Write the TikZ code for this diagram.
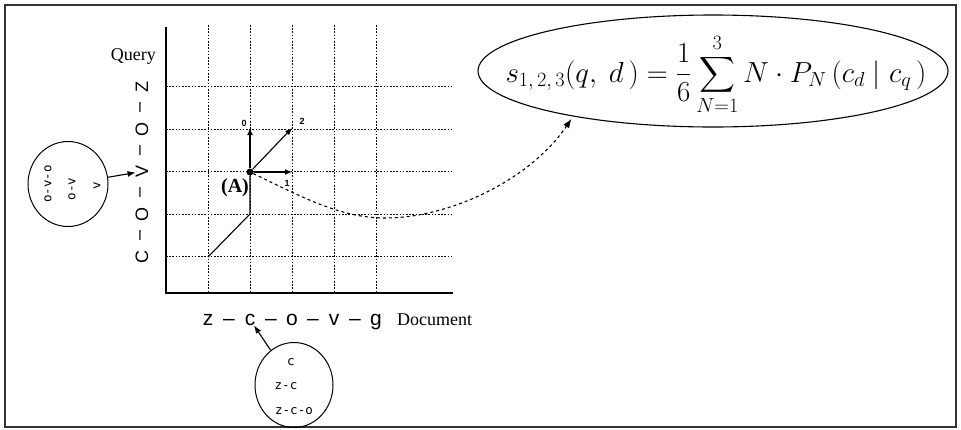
\RequirePackage{fix-cm}
\documentclass[tikz,border=0pt]{standalone}
\usepackage{amsmath}
\usepackage{fontspec}
\setmainfont{Liberation Serif}
\setsansfont{Liberation Sans}
\setmonofont{DejaVu Sans Mono}
\usetikzlibrary{arrows.meta, shapes.geometric}
\tikzset{
  frm/.style   ={line width=1.3pt, black!80},
  grd/.style   ={line width=0.9pt, dash pattern=on 1.6pt off 1.6pt},
  axis/.style  ={line width=1.3pt},
  qch/.style   ={font=\sffamily\fontsize{18}{18}\selectfont, rotate=90,
                 inner sep=0pt},
  dch/.style   ={font=\sffamily\fontsize{21}{21}\selectfont, anchor=base,
                 inner sep=0pt},
  axlbl/.style ={font=\fontsize{18}{18}\selectfont, inner sep=0pt},
  grp/.style   ={draw, ellipse, line width=1pt, inner sep=0pt},
  grptxt/.style={font=\ttfamily\fontsize{12.5}{12.5}\selectfont, inner sep=0pt},
  dot/.style   ={circle, fill, minimum size=7pt, inner sep=0pt},
  vec/.style   ={-{Latex[length=7pt, width=6pt]}, line width=1.1pt},
  pt/.style    ={-{Latex[length=8pt, width=6pt]}, line width=1.1pt},
  link/.style  ={-{Latex[length=9pt, width=7pt]}, line width=1.1pt,
                 dash pattern=on 3pt off 3pt},
  dirn/.style  ={font=\sffamily\bfseries\fontsize{9}{9}\selectfont, inner sep=1pt},
  eqell/.style ={draw, ellipse, line width=1.1pt, minimum width=470pt,
                 minimum height=112pt, inner sep=0pt},
  eqtxt/.style ={font=\fontsize{29}{34}\selectfont, inner sep=0pt, anchor=base},
}
\begin{document}
\begin{tikzpicture}[x=1pt, y=-1pt]
  \useasboundingbox (0,0) rectangle (961,429);
  \draw[frm] (5,5) rectangle (956,427);
  % grid
  \foreach \i in {1,...,5} {
    \draw[grd] (166+42*\i,25) -- (166+42*\i,293);
    \draw[grd] (166,299-42.5*\i) -- (453,299-42.5*\i);
  }
  \draw[axis] (166,27) -- (166,293) -- (453,293);
  % query and document strings
  \foreach \l [count=\i] in {C,O,V,O,Z}
    \node[qch] (q\i) at (142,299-42.5*\i) {\l};
  \foreach \i in {1,...,4}
    \node[qch] (qs\i) at (142,277.75-42.5*\i) {–};
  \foreach \l [count=\i] in {z,c,o,v,g}
    \node[dch] (d\i) at (166+42*\i,325) {\l};
  \foreach \i in {1,...,4}
    \node[dch] (ds\i) at (187+42*\i,325) {–};
  \node[axlbl, anchor=base east] (qry) at (156,60) {Query};
  \node[axlbl, anchor=base west] (doc) at (397,325) {Document};
  % n-gram groups
  \node[grp, minimum width=80pt, minimum height=85pt] (lgrp) at (68,184) {};
  \node[grptxt, rotate=90] (l1) at (48,184) {o-v-o};
  \node[grptxt, rotate=90] (l2) at (72,189) {o-v};
  \node[grptxt, rotate=90] (l3) at (97,186) {v};
  \node[grp, minimum width=78pt, minimum height=85pt] (bgrp) at (294,385) {};
  \node[grptxt] (b1) at (291,362) {c};
  \node[grptxt] (b2) at (286,386) {z-c};
  \node[grptxt] (b3) at (294,411) {z-c-o};
  \draw[pt] (lgrp) -- (q3);
  \draw[pt] (bgrp) -- (d2);
  % point A and its moves
  \coordinate (s0) at (208,257);
  \coordinate (s1) at (250,214);
  \coordinate (p0) at (250,128);
  \coordinate (p1) at (292,172);
  \coordinate (p2) at (292,128);
  \node[dot] (A) at (250,172) {};
  \node[font=\bfseries\fontsize{20}{20}\selectfont, inner sep=0pt] (Alab)
    at (235,188) {(A)};
  \draw[line width=1.1pt] (s0) -- (s1) -- (A);
  \draw[vec] (A) -- (p0);
  \draw[vec] (A) -- (p1);
  \draw[vec] (A) -- (p2);
  \node[dirn] (n0) at (244,123) {0};
  \node[dirn] (n1) at (287,183) {1};
  \node[dirn] (n2) at (302,121) {2};
  % score
  \node[eqell] (eq) at (713,71) {};
  \node[eqtxt] (eqt) at (716,82)
    {$\displaystyle s_{1,\,2,\,3}(q,\ d\,) = \frac{1}{6}\sum_{N=1}^{3} N\cdot P_N\,(c_d \mid c_q\,)$};
  \draw[link, shorten >=3pt] (A) .. controls (300,196) and (340,218) .. (385,218)
    .. controls (450,218) and (530,180) .. (eq.198);
\end{tikzpicture}
\end{document}
